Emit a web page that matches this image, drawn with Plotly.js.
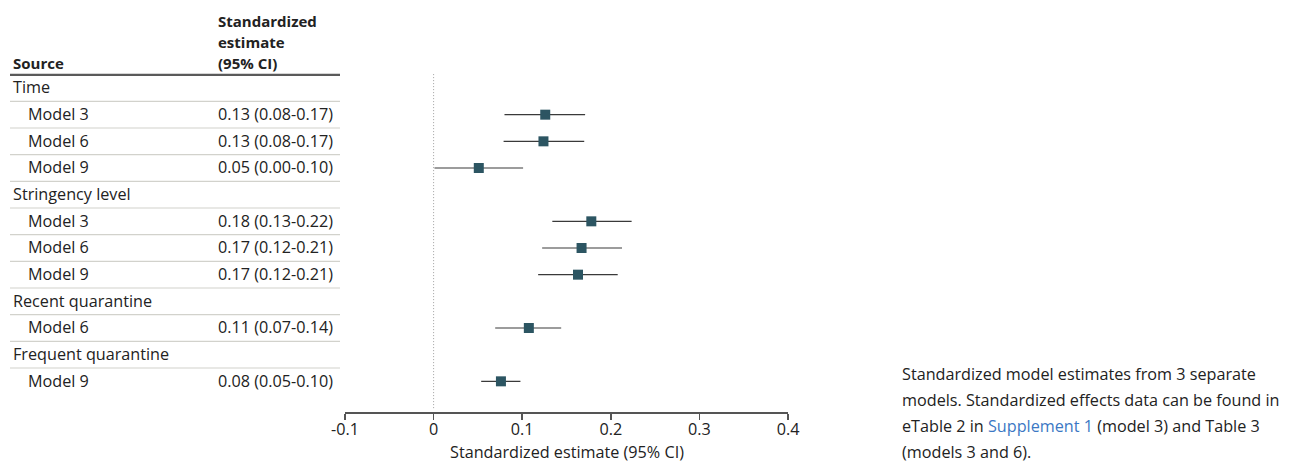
<!DOCTYPE html>
<html>
<head>
<meta charset="utf-8">
<script src="https://cdn.plot.ly/plotly-3.0.1.min.js"></script>
<style>
  html, body { margin: 0; padding: 0; background: #ffffff; }
  #chart { width: 1294px; height: 462px; }
</style>
</head>
<body>
<div id="chart"></div>
<script>
// ---- data ----
const rowLabels = ['Time', 'Model 3', 'Model 6', 'Model 9',
                   'Stringency level', 'Model 3', 'Model 6', 'Model 9',
                   'Recent quarantine', 'Model 6',
                   'Frequent quarantine', 'Model 9'];
const rowIsGroup = [true, false, false, false,
                    true, false, false, false,
                    true, false,
                    true, false];
const estimateText = ['', '0.13 (0.08-0.17)', '0.13 (0.08-0.17)', '0.05 (0.00-0.10)',
                      '', '0.18 (0.13-0.22)', '0.17 (0.12-0.21)', '0.17 (0.12-0.21)',
                      '', '0.11 (0.07-0.14)',
                      '', '0.08 (0.05-0.10)'];
const estimate = [null, 0.126, 0.124, 0.051, null, 0.178, 0.167, 0.163, null, 0.1075, null, 0.076];
const ciLow    = [null, 0.080, 0.079, 0.001, null, 0.134, 0.1225, 0.118, null, 0.0695, null, 0.0537];
const ciHigh   = [null, 0.171, 0.170, 0.101, null, 0.2235, 0.2127, 0.2078, null, 0.144, null, 0.098];
const tickVals = [-0.1, 0, 0.1, 0.2, 0.3, 0.4];
const tickText = ['-0.1', '0', '0.1', '0.2', '0.3', '0.4'];
const headerSource = 'Source';
const headerEstimate = ['Standardized', 'estimate', '(95% CI)'];
const xAxisTitle = 'Standardized estimate (95% CI)';
const captionLines = [
  'Standardized model estimates from 3 separate',
  'models. Standardized effects data can be found in',
  'eTable 2 in <span style="color:#3b78c4">Supplement 1</span> (model 3) and Table 3',
  '(models 3 and 6).'
];

// ---- layout helpers ----
const W = 1294, H = 462;
const FONT = '"Open Sans", "Noto Sans", sans-serif';
const FS = 16.2;
const TXT = '#222222';
const px = p => p / W;                 // paper x from pixel
const rowY = rowLabels.map((_, i) => -i);

const pts = { x: [], y: [], plus: [], minus: [] };
estimate.forEach((v, i) => {
  if (v === null) return;
  pts.x.push(v);
  pts.y.push(rowY[i]);
  pts.plus.push(ciHigh[i] - v);
  pts.minus.push(v - ciLow[i]);
});

const trace = {
  type: 'scatter',
  mode: 'markers',
  x: pts.x,
  y: pts.y,
  marker: { symbol: 'square', size: 10, color: '#2c5562' },
  error_x: {
    type: 'data', symmetric: false,
    array: pts.plus, arrayminus: pts.minus,
    width: 0, thickness: 1.2, color: '#3a3a3a'
  },
  hoverinfo: 'skip',
  showlegend: false
};

const annotations = [];
const shapes = [];

// header
annotations.push({ xref: 'paper', yref: 'y', x: px(11), y: 0.93, xanchor: 'left', yanchor: 'middle',
  text: '<b>' + headerSource + '</b>', showarrow: false, font: { family: FONT, size: 15, color: TXT } });
headerEstimate.forEach((t, k) => {
  annotations.push({ xref: 'paper', yref: 'y', x: px(216), y: 2.5 - k * 0.78, xanchor: 'left', yanchor: 'middle',
    text: '<b>' + t + '</b>', showarrow: false, font: { family: FONT, size: 15, color: TXT } });
});
shapes.push({ type: 'line', xref: 'paper', yref: 'y', x0: px(10), x1: px(340), y0: 0.49, y1: 0.49,
  line: { color: '#5a5a5a', width: 2.2 } });

// rows
rowLabels.forEach((lab, i) => {
  annotations.push({ xref: 'paper', yref: 'y', x: px(rowIsGroup[i] ? 11 : 26), y: rowY[i] + 0.03,
    xanchor: 'left', yanchor: 'middle', text: lab, showarrow: false,
    font: { family: FONT, size: FS, color: TXT } });
  if (estimateText[i]) {
    annotations.push({ xref: 'paper', yref: 'y', x: px(216), y: rowY[i] + 0.03,
      xanchor: 'left', yanchor: 'middle', text: estimateText[i], showarrow: false,
      font: { family: FONT, size: FS, color: TXT } });
  }
  if (i < rowLabels.length - 1) {
    shapes.push({ type: 'line', xref: 'paper', yref: 'y', x0: px(10), x1: px(340),
      y0: rowY[i] - 0.5, y1: rowY[i] - 0.5, line: { color: '#d2d2cc', width: 1.2 } });
  }
});

// zero reference line
shapes.push({ type: 'line', xref: 'x', yref: 'y', x0: 0, x1: 0, y0: 0.52, y1: -12.05,
  line: { color: '#a0a0a0', width: 1, dash: '1px,2px' } });

// x-axis title
annotations.push({ xref: 'paper', yref: 'paper', x: px(566.5), y: -40 / 412, xanchor: 'center', yanchor: 'middle',
  text: xAxisTitle, showarrow: false, font: { family: FONT, size: FS, color: TXT } });

// caption
captionLines.forEach((t, k) => {
  annotations.push({ xref: 'paper', yref: 'paper', x: px(900), y: (412 - (374 + 26 * k)) / 412,
    xanchor: 'left', yanchor: 'middle', text: t, showarrow: false, align: 'left',
    font: { family: FONT, size: FS, color: TXT } });
});

const layout = {
  width: W, height: H,
  margin: { l: 0, r: 0, t: 0, b: 50, pad: 0 },
  paper_bgcolor: '#ffffff', plot_bgcolor: '#ffffff',
  font: { family: FONT, size: FS, color: TXT },
  xaxis: {
    domain: [px(345), px(788)],
    range: [-0.1, 0.4],
    tickvals: tickVals, ticktext: tickText,
    showline: true, linecolor: '#555555', linewidth: 1.5,
    ticks: 'outside', ticklen: 6, tickwidth: 1.5, tickcolor: '#555555',
    ticklabelstandoff: -4,
    showgrid: false, zeroline: false,
    tickfont: { family: FONT, size: FS, color: TXT },
    fixedrange: true
  },
  yaxis: {
    range: [-12.15, 3.3],
    visible: false, showgrid: false, zeroline: false, fixedrange: true
  },
  annotations: annotations,
  shapes: shapes,
  showlegend: false
};

Plotly.newPlot('chart', [trace], layout, { displayModeBar: false, staticPlot: true });
</script>
</body>
</html>
